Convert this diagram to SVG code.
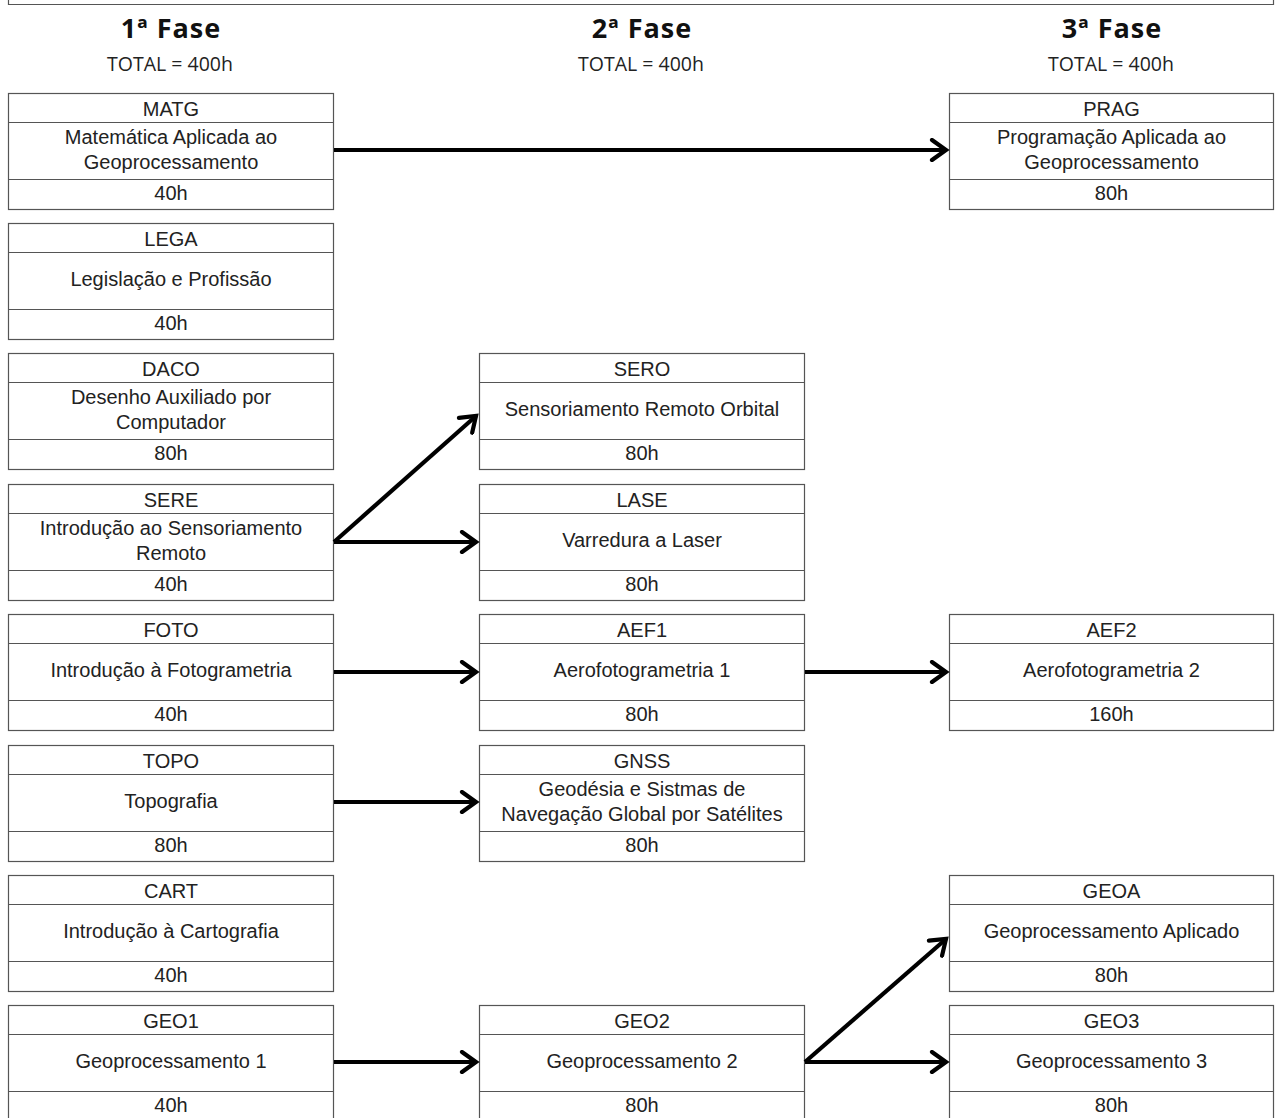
<svg xmlns="http://www.w3.org/2000/svg" width="1275" height="1118" viewBox="0 0 1275 1118">
<defs>
<marker id="ah" viewBox="0 0 24 24" refX="20" refY="12" markerWidth="24" markerHeight="24" markerUnits="userSpaceOnUse" orient="auto">
<path d="M6,2 L20,12 L6,22" fill="none" stroke="#000" stroke-width="4.2" stroke-linecap="round" stroke-linejoin="miter"/>
</marker>
</defs>
<style>
.bx{fill:#fff;stroke:#555;stroke-width:1.2}
.dv{stroke:#555;stroke-width:1.2}
.t{font-family:"Liberation Sans",Arial,sans-serif;font-size:20px;fill:#222;text-anchor:middle}
.h{font-family:"Open Sans","Noto Sans",sans-serif;font-size:27px;font-weight:bold;fill:#111;text-anchor:middle;letter-spacing:1px}
.s{font-family:"Open Sans","Noto Sans",sans-serif;font-size:19.5px;fill:#222;text-anchor:middle}
.c{stroke:#000;stroke-width:4.2;fill:none;marker-end:url(#ah)}
</style>
<rect width="1275" height="1118" fill="#fff"/>
<path d="M8.5,-2 V4.5 H1273.5 V-2" fill="none" stroke="#555" stroke-width="1.2"/>
<g id="headers">
<text class="h" x="171" y="38">1ª Fase</text>
<text class="s" x="170" y="70.5">TOTAL = 400h</text>
<text class="h" x="642" y="38">2ª Fase</text>
<text class="s" x="641" y="70.5">TOTAL = 400h</text>
<text class="h" x="1112" y="38">3ª Fase</text>
<text class="s" x="1111" y="70.5">TOTAL = 400h</text>
</g>
<g id="MATG" transform="translate(8.5,93.5)">
<rect class="bx" width="325" height="116"/><path class="dv" d="M0,29H325M0,86H325"/>
<text class="t" x="162.5" y="22.5">MATG</text>
<text class="t" x="162.5" y="50">Matemática Aplicada ao</text>
<text class="t" x="162.5" y="75">Geoprocessamento</text>
<text class="t" x="162.5" y="106">40h</text>
</g>
<g id="LEGA" transform="translate(8.5,223.5)">
<rect class="bx" width="325" height="116"/><path class="dv" d="M0,29H325M0,86H325"/>
<text class="t" x="162.5" y="22.5">LEGA</text>
<text class="t" x="162.5" y="62.5">Legislação e Profissão</text>
<text class="t" x="162.5" y="106">40h</text>
</g>
<g id="DACO" transform="translate(8.5,353.5)">
<rect class="bx" width="325" height="116"/><path class="dv" d="M0,29H325M0,86H325"/>
<text class="t" x="162.5" y="22.5">DACO</text>
<text class="t" x="162.5" y="50">Desenho Auxiliado por</text>
<text class="t" x="162.5" y="75">Computador</text>
<text class="t" x="162.5" y="106">80h</text>
</g>
<g id="SERE" transform="translate(8.5,484.5)">
<rect class="bx" width="325" height="116"/><path class="dv" d="M0,29H325M0,86H325"/>
<text class="t" x="162.5" y="22.5">SERE</text>
<text class="t" x="162.5" y="50">Introdução ao Sensoriamento</text>
<text class="t" x="162.5" y="75">Remoto</text>
<text class="t" x="162.5" y="106">40h</text>
</g>
<g id="FOTO" transform="translate(8.5,614.5)">
<rect class="bx" width="325" height="116"/><path class="dv" d="M0,29H325M0,86H325"/>
<text class="t" x="162.5" y="22.5">FOTO</text>
<text class="t" x="162.5" y="62.5">Introdução à Fotogrametria</text>
<text class="t" x="162.5" y="106">40h</text>
</g>
<g id="TOPO" transform="translate(8.5,745.5)">
<rect class="bx" width="325" height="116"/><path class="dv" d="M0,29H325M0,86H325"/>
<text class="t" x="162.5" y="22.5">TOPO</text>
<text class="t" x="162.5" y="62.5">Topografia</text>
<text class="t" x="162.5" y="106">80h</text>
</g>
<g id="CART" transform="translate(8.5,875.5)">
<rect class="bx" width="325" height="116"/><path class="dv" d="M0,29H325M0,86H325"/>
<text class="t" x="162.5" y="22.5">CART</text>
<text class="t" x="162.5" y="62.5">Introdução à Cartografia</text>
<text class="t" x="162.5" y="106">40h</text>
</g>
<g id="GEO1" transform="translate(8.5,1005.5)">
<rect class="bx" width="325" height="116"/><path class="dv" d="M0,29H325M0,86H325"/>
<text class="t" x="162.5" y="22.5">GEO1</text>
<text class="t" x="162.5" y="62.5">Geoprocessamento 1</text>
<text class="t" x="162.5" y="106">40h</text>
</g>
<g id="SERO" transform="translate(479.5,353.5)">
<rect class="bx" width="325" height="116"/><path class="dv" d="M0,29H325M0,86H325"/>
<text class="t" x="162.5" y="22.5">SERO</text>
<text class="t" x="162.5" y="62.5">Sensoriamento Remoto Orbital</text>
<text class="t" x="162.5" y="106">80h</text>
</g>
<g id="LASE" transform="translate(479.5,484.5)">
<rect class="bx" width="325" height="116"/><path class="dv" d="M0,29H325M0,86H325"/>
<text class="t" x="162.5" y="22.5">LASE</text>
<text class="t" x="162.5" y="62.5">Varredura a Laser</text>
<text class="t" x="162.5" y="106">80h</text>
</g>
<g id="AEF1" transform="translate(479.5,614.5)">
<rect class="bx" width="325" height="116"/><path class="dv" d="M0,29H325M0,86H325"/>
<text class="t" x="162.5" y="22.5">AEF1</text>
<text class="t" x="162.5" y="62.5">Aerofotogrametria 1</text>
<text class="t" x="162.5" y="106">80h</text>
</g>
<g id="GNSS" transform="translate(479.5,745.5)">
<rect class="bx" width="325" height="116"/><path class="dv" d="M0,29H325M0,86H325"/>
<text class="t" x="162.5" y="22.5">GNSS</text>
<text class="t" x="162.5" y="50">Geodésia e Sistmas de</text>
<text class="t" x="162.5" y="75">Navegação Global por Satélites</text>
<text class="t" x="162.5" y="106">80h</text>
</g>
<g id="GEO2" transform="translate(479.5,1005.5)">
<rect class="bx" width="325" height="116"/><path class="dv" d="M0,29H325M0,86H325"/>
<text class="t" x="162.5" y="22.5">GEO2</text>
<text class="t" x="162.5" y="62.5">Geoprocessamento 2</text>
<text class="t" x="162.5" y="106">80h</text>
</g>
<g id="PRAG" transform="translate(949.5,93.5)">
<rect class="bx" width="324" height="116"/><path class="dv" d="M0,29H324M0,86H324"/>
<text class="t" x="162" y="22.5">PRAG</text>
<text class="t" x="162" y="50">Programação Aplicada ao</text>
<text class="t" x="162" y="75">Geoprocessamento</text>
<text class="t" x="162" y="106">80h</text>
</g>
<g id="AEF2" transform="translate(949.5,614.5)">
<rect class="bx" width="324" height="116"/><path class="dv" d="M0,29H324M0,86H324"/>
<text class="t" x="162" y="22.5">AEF2</text>
<text class="t" x="162" y="62.5">Aerofotogrametria 2</text>
<text class="t" x="162" y="106">160h</text>
</g>
<g id="GEOA" transform="translate(949.5,875.5)">
<rect class="bx" width="324" height="116"/><path class="dv" d="M0,29H324M0,86H324"/>
<text class="t" x="162" y="22.5">GEOA</text>
<text class="t" x="162" y="62.5">Geoprocessamento Aplicado</text>
<text class="t" x="162" y="106">80h</text>
</g>
<g id="GEO3" transform="translate(949.5,1005.5)">
<rect class="bx" width="324" height="116"/><path class="dv" d="M0,29H324M0,86H324"/>
<text class="t" x="162" y="22.5">GEO3</text>
<text class="t" x="162" y="62.5">Geoprocessamento 3</text>
<text class="t" x="162" y="106">80h</text>
</g>
<g id="connectors">
<path class="c" d="M334,150H946"/>
<path class="c" d="M334,542L476,416"/>
<path class="c" d="M334,542H476"/>
<path class="c" d="M334,672H476"/>
<path class="c" d="M805,672H946"/>
<path class="c" d="M334,802H476"/>
<path class="c" d="M334,1062H476"/>
<path class="c" d="M805,1062L946,939"/>
<path class="c" d="M805,1062H946"/>
</g>
</svg>
